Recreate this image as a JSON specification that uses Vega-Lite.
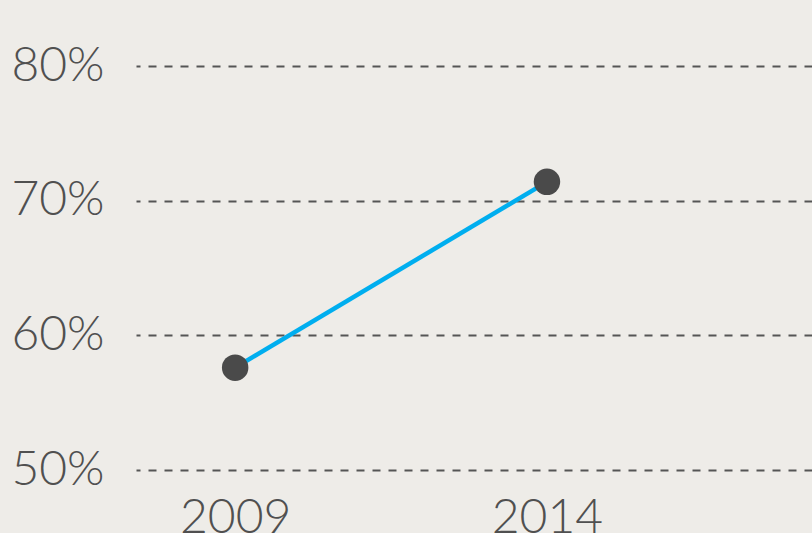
{
  "$schema": "https://vega.github.io/schema/vega-lite/v6.json",
  "width": 676,
  "height": 404,
  "autosize": {"type": "none"},
  "padding": {"left": 136, "top": 66, "right": 0, "bottom": 63},
  "background": "#eeece8",
  "config": {
    "view": {"stroke": null},
    "font": "Lato"
  },
  "data": {
    "values": [
      {"year": 2009, "value": 0.576},
      {"year": 2014, "value": 0.714}
    ]
  },
  "encoding": {
    "x": {
      "field": "year",
      "type": "quantitative",
      "scale": {"domain": [2007.41, 2018.25], "nice": false, "zero": false},
      "axis": {
        "title": null,
        "values": [2009, 2014],
        "format": "d",
        "grid": false,
        "domain": false,
        "ticks": false,
        "tickSize": 0,
        "labelPadding": 62,
        "labelBaseline": "alphabetic",
        "labelFontSize": 48,
        "labelFont": "Lato",
        "labelFontWeight": 300,
        "labelColor": "#505050",
        "labelDx": 6,
        "labelFlush": false,
        "labelOverlap": false
      }
    },
    "y": {
      "field": "value",
      "type": "quantitative",
      "scale": {"domain": [0.5, 0.8], "nice": false, "zero": false},
      "axis": {
        "title": null,
        "values": [0.5, 0.6, 0.7, 0.8],
        "format": ".0%",
        "grid": true,
        "gridColor": "#555555",
        "gridWidth": 2,
        "gridDash": [8, 8],
        "gridDashOffset": 4,
        "domain": false,
        "ticks": false,
        "tickSize": 0,
        "labelPadding": 32,
        "labelFontSize": 48,
        "labelFont": "Lato",
        "labelFontWeight": 300,
        "labelColor": "#505050",
        "labelBaseline": "middle",
        "labelFlush": false,
        "labelOverlap": false
      }
    }
  },
  "layer": [
    {
      "mark": {"type": "line", "color": "#00aeef", "strokeWidth": 4.5}
    },
    {
      "mark": {"type": "point", "filled": true, "size": 700, "color": "#4a4a4a", "opacity": 1}
    }
  ]
}
